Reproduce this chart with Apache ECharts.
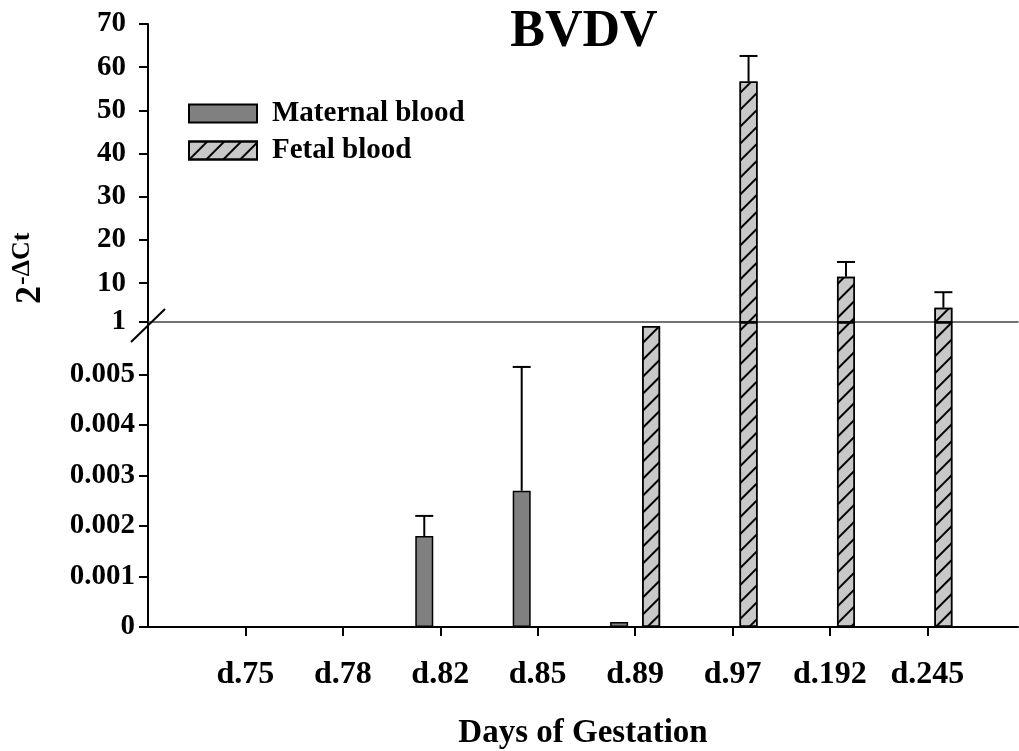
<!DOCTYPE html>
<html>
<head>
<meta charset="utf-8">
<script src="https://cdn.jsdelivr.net/npm/echarts@6/dist/echarts.min.js"></script>
<style>
html,body{margin:0;padding:0;background:#fff;}
#chart{width:1019px;height:751px;}
</style>
</head>
<body>
<div id="chart"></div>
<script>
// ---- data ----
var categories = ['d.75', 'd.78', 'd.82', 'd.85', 'd.89', 'd.97', 'd.192', 'd.245'];
var maternal = [0, 0, 0.0018, 0.0027, 0.0001, 0, 0, 0];
var maternalErrTop = [null, null, 0.0022, 0.00515, null, null, null, null];
var fetal = [0, 0, 0, 0, 0.00596, 56.7, 11.5, 4.3];
var fetalErrTop = [null, null, null, null, null, 62.6, 14.9, 7.9];
var lowerTicks = [0, 0.001, 0.002, 0.003, 0.004, 0.005];
var upperTicks = [1, 10, 20, 30, 40, 50, 60, 70];
var lowerMax = 0.00604;
var upperMin = 1, upperMax = 70;

// ---- styles ----
var FONT = '"Liberation Serif", "Times New Roman", serif';
var BAR_W = 18, BAR_GAP = 14;
var OFFSET = (BAR_W + BAR_GAP) / 2;
var hatch = {
  symbol: 'rect', symbolSize: 1, color: '#000',
  dashArrayX: [1, 0], dashArrayY: [2, 10], rotation: -Math.PI / 4
};
var matStyle = { color: '#808080', borderColor: '#000', borderWidth: 1.5 };
var fetStyle = { color: '#c8c8c8', borderColor: '#000', borderWidth: 1.5, decal: hatch };

function idx(i) { return i + 1; }
var xLabelVals = categories.map(function (c, i) { return idx(i); });

var lowerMat = maternal.map(function (v, i) { return [idx(i), v]; });
var lowerFet = fetal.map(function (v, i) { return [idx(i), v >= upperMin ? lowerMax : v]; });
var upperFet = fetal.map(function (v, i) { return [idx(i), v >= upperMin ? v : null]; });
var upperMat = maternal.map(function (v, i) { return [idx(i), null]; });

function errData(vals, errs, pred) {
  var out = [];
  vals.forEach(function (v, i) {
    if (errs[i] != null && pred(v)) out.push([idx(i), v, errs[i]]);
  });
  return out;
}
function errRender(offset) {
  return function (params, api) {
    var p0 = api.coord([api.value(0), api.value(1)]);
    var p1 = api.coord([api.value(0), api.value(2)]);
    var x = p0[0] + offset;
    var st = { stroke: '#000', lineWidth: 2 };
    return {
      type: 'group',
      children: [
        { type: 'line', shape: { x1: x, y1: p0[1], x2: x, y2: p1[1] }, style: st },
        { type: 'line', shape: { x1: x - BAR_W / 2, y1: p1[1], x2: x + BAR_W / 2, y2: p1[1] }, style: st }
      ]
    };
  };
}

var xMax = 8.93;
function xAxisCfg(gi, lower) {
  return {
    type: 'value', gridIndex: gi, min: 0, max: xMax,
    axisLine: { show: true, onZero: false, lineStyle: lower ? { color: '#000', width: 2 } : { color: '#444', width: 1.5 } },
    axisTick: { show: lower, length: 9, inside: false, customValues: xLabelVals, lineStyle: { color: '#000', width: 2 } },
    axisLabel: {
      show: lower, customValues: xLabelVals, margin: 32,
      formatter: function (v) { return categories[Math.round(v) - 1] || ''; },
      fontFamily: FONT, fontWeight: 'bold', fontSize: 32, color: '#000'
    },
    splitLine: { show: false },
    name: lower ? 'Days of Gestation' : '',
    nameLocation: 'middle', nameGap: 90,
    nameTextStyle: { fontFamily: FONT, fontWeight: 'bold', fontSize: 33, color: '#000' }
  };
}
function yAxisCfg(gi, lower) {
  return {
    type: 'value', gridIndex: gi,
    min: lower ? 0 : upperMin, max: lower ? lowerMax : upperMax,
    axisLine: { show: true, lineStyle: { color: '#000', width: 2 } },
    axisTick: { show: true, length: 9, customValues: lower ? lowerTicks : upperTicks, lineStyle: { color: '#000', width: 2 } },
    axisLabel: {
      customValues: lower ? lowerTicks : upperTicks, margin: lower ? 13 : 22,
      formatter: function (v) { return lower ? (v === 0 ? '0' : v.toFixed(3)) : String(v); },
      fontFamily: FONT, fontWeight: 'bold', fontSize: 29, color: '#000'
    },
    splitLine: { show: false }
  };
}

var chart = echarts.init(document.getElementById('chart'), null, { renderer: 'canvas' });
var option = {
  backgroundColor: '#fff',
  animation: false,
  title: {
    text: 'BVDV', left: 579, top: 2, textAlign: 'center',
    textStyle: { fontFamily: FONT, fontWeight: 'bold', fontSize: 52, color: '#000' }
  },
  legend: {
    orient: 'vertical', left: 188, top: 99, padding: 0, itemWidth: 68, itemHeight: 18, itemGap: 8,
    icon: 'rect',
    data: ['Maternal blood', 'Fetal blood'],
    textStyle: { fontFamily: FONT, fontWeight: 'bold', fontSize: 29, color: '#000', padding: [0, 0, 0, 10] }
  },
  grid: [
    { left: 148, right: 1, top: 322, height: 307 },
    { left: 148, right: 1, top: 24, height: 298 }
  ],
  xAxis: [xAxisCfg(0, true), xAxisCfg(1, false)],
  yAxis: [yAxisCfg(0, true), yAxisCfg(1, false)],
  series: [
    { name: 'Maternal blood', type: 'bar', xAxisIndex: 0, yAxisIndex: 0, data: lowerMat, barWidth: BAR_W, barGap: (BAR_GAP / BAR_W * 100) + '%', itemStyle: matStyle },
    { name: 'Fetal blood', type: 'bar', xAxisIndex: 0, yAxisIndex: 0, data: lowerFet, barWidth: BAR_W, barGap: (BAR_GAP / BAR_W * 100) + '%', itemStyle: fetStyle },
    { name: 'Maternal blood', type: 'bar', xAxisIndex: 1, yAxisIndex: 1, data: upperMat, barWidth: BAR_W, barGap: (BAR_GAP / BAR_W * 100) + '%', itemStyle: matStyle },
    { name: 'Fetal blood', type: 'bar', xAxisIndex: 1, yAxisIndex: 1, data: upperFet, barWidth: BAR_W, barGap: (BAR_GAP / BAR_W * 100) + '%', itemStyle: fetStyle },
    { type: 'custom', xAxisIndex: 0, yAxisIndex: 0, data: errData(maternal, maternalErrTop, function () { return true; }), renderItem: errRender(-OFFSET), z: 3 },
    { type: 'custom', xAxisIndex: 1, yAxisIndex: 1, data: errData(fetal, fetalErrTop, function (v) { return v >= upperMin; }), renderItem: errRender(OFFSET), z: 3 }
  ]
};
chart.setOption(option);

// axis break mark and y-axis title
var bp = chart.convertToPixel({ xAxisIndex: 1, yAxisIndex: 1 }, [0, upperMin]);
chart.setOption({
  graphic: [
    { type: 'line', shape: { x1: bp[0] - 17, y1: bp[1] + 20, x2: bp[0] + 17, y2: bp[1] - 13 }, style: { stroke: '#000', lineWidth: 2 }, z: 10 },
    {
      type: 'group', x: 31, y: 304, rotation: Math.PI / 2,
      children: [
        { type: 'text', x: 0, y: 0, style: { text: '2', fontFamily: FONT, fontWeight: 'bold', fontSize: 36, fill: '#000', textAlign: 'left', textVerticalAlign: 'middle' } },
        { type: 'text', x: 19, y: -9, style: { text: '-ΔCt', fontFamily: FONT, fontWeight: 'bold', fontSize: 26, fill: '#000', textAlign: 'left', textVerticalAlign: 'middle' } }
      ]
    }
  ]
});
</script>
</body>
</html>
